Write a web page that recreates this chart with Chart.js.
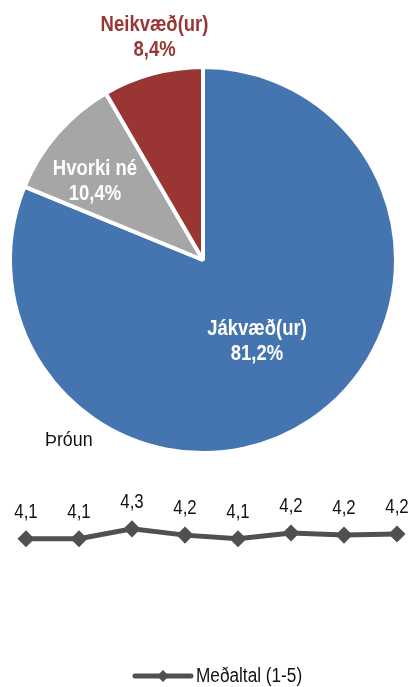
<!DOCTYPE html>
<html>
<head>
<meta charset="utf-8">
<script src="https://cdn.jsdelivr.net/npm/chart.js@4.4.0/dist/chart.umd.min.js"></script>
<style>
    body { margin: 0; background: #fff; width: 414px; height: 687px; overflow: hidden; position: relative; }
    #pieWrap { position: absolute; left: 0; top: 0; width: 414px; height: 460px; }
    #lineWrap { position: absolute; left: 0; top: 460px; width: 414px; height: 227px; }
    #trendTitle { position: absolute; left: 45px; top: 427px; font: 21px 'Liberation Sans', sans-serif; color: #111;
                  transform: scaleX(0.85); transform-origin: 0 0; }
</style>
</head>
<body>
<div id="pieWrap"><canvas id="pieChart"></canvas></div>
<div id="trendTitle">Þróun</div>
<div id="lineWrap"><canvas id="lineChart"></canvas></div>
<script>
// Pie data
const pieLabels = ['Jákvæð(ur)', 'Hvorki né', 'Neikvæð(ur)'];
const pieValues = [81.2, 10.4, 8.4];
const pieColors = ['#4575b0', '#a6a6a6', '#993634'];

// Trend data
const trendLabels = ['1', '2', '3', '4', '5', '6', '7', '8'];
const trendValues = [4.12, 4.12, 4.31, 4.19, 4.12, 4.23, 4.19, 4.21];
const trendName = 'Meðaltal (1-5)';

const fontFamily = "'Liberation Sans', Arial, sans-serif";
const fmt = v => v.toFixed(1).replace('.', ',');

// The original uses a condensed face, squeeze the text horizontally
function narrowText(ctx, text, x, y, squeeze) {
    ctx.save();
    ctx.translate(x, y);
    ctx.scale(squeeze, 1);
    ctx.fillText(text, 0, 0);
    ctx.restore();
}

// Label placement per slice: distance from centre, nudge, colour
const pieLabelPlacement = [
    { r: 97, dx: 0, dy: 0, color: '#ffffff' },
    { r: 134, dx: -7, dy: 9, color: '#ffffff' },
    { r: 228, dx: 11, dy: -3, color: '#993634' }
];

const pieLabelPlugin = {
    id: 'pieLabels',
    afterDatasetsDraw(chart) {
        const ctx = chart.ctx;
        const meta = chart.getDatasetMeta(0);
        ctx.save();
        ctx.font = 'bold 22px ' + fontFamily;
        ctx.textAlign = 'center';
        ctx.textBaseline = 'middle';
        meta.data.forEach((arc, i) => {
            const p = pieLabelPlacement[i];
            const mid = (arc.startAngle + arc.endAngle) / 2;
            const x = arc.x + Math.cos(mid) * p.r + p.dx;
            const y = arc.y + Math.sin(mid) * p.r + p.dy;
            ctx.fillStyle = p.color;
            narrowText(ctx, pieLabels[i], x, y - 12, 0.84);
            narrowText(ctx, fmt(pieValues[i]) + '%', x, y + 13, 0.84);
        });
        ctx.restore();
    }
};

new Chart(document.getElementById('pieChart'), {
    type: 'pie',
    data: {
        labels: pieLabels,
        datasets: [{
            data: pieValues,
            backgroundColor: pieColors,
            borderColor: '#ffffff',
            borderWidth: 4
        }]
    },
    options: {
        responsive: true,
        maintainAspectRatio: false,
        animation: false,
        layout: { padding: { top: 65, bottom: 5, left: 8, right: 16 } },
        plugins: {
            legend: { display: false },
            tooltip: { enabled: false }
        }
    },
    plugins: [pieLabelPlugin]
});

// Value labels above the points and a legend drawn like the original
const trendDecor = {
    id: 'trendDecor',
    afterDatasetsDraw(chart) {
        const ctx = chart.ctx;
        const ds = chart.data.datasets[0];
        const meta = chart.getDatasetMeta(0);
        ctx.save();
        ctx.fillStyle = '#111';
        ctx.textBaseline = 'middle';
        ctx.textAlign = 'center';
        ctx.font = '21px ' + fontFamily;
        meta.data.forEach((pt, i) => {
            narrowText(ctx, fmt(trendValues[i]), pt.x, pt.y - 27, 0.8);
        });

        // legend: line with diamond, then text
        const ly = 216, lx = 135, lw = 56;
        ctx.strokeStyle = ds.borderColor;
        ctx.lineWidth = 5;
        ctx.lineCap = 'round';
        ctx.beginPath();
        ctx.moveTo(lx, ly);
        ctx.lineTo(lx + lw, ly);
        ctx.stroke();
        ctx.fillStyle = ds.borderColor;
        ctx.beginPath();
        ctx.moveTo(lx + 28, ly - 6);
        ctx.lineTo(lx + 34, ly);
        ctx.lineTo(lx + 28, ly + 6);
        ctx.lineTo(lx + 22, ly);
        ctx.closePath();
        ctx.fill();
        ctx.fillStyle = '#111';
        ctx.textAlign = 'left';
        ctx.font = '20px ' + fontFamily;
        narrowText(ctx, ds.label, lx + lw + 5, ly, 0.86);
        ctx.restore();
    }
};

new Chart(document.getElementById('lineChart'), {
    type: 'line',
    data: {
        labels: trendLabels,
        datasets: [{
            label: trendName,
            data: trendValues,
            borderColor: '#505050',
            backgroundColor: '#505050',
            borderWidth: 5,
            pointStyle: 'rectRot',
            pointRadius: 5,
            tension: 0
        }]
    },
    options: {
        responsive: true,
        maintainAspectRatio: false,
        animation: false,
        layout: { padding: { top: 33, bottom: 38, left: 26, right: 17 } },
        scales: {
            x: { display: false, offset: false },
            y: { display: false, min: 2, max: 5 }
        },
        plugins: {
            tooltip: { enabled: false },
            legend: { display: false }
        }
    },
    plugins: [trendDecor]
});
</script>
</body>
</html>
